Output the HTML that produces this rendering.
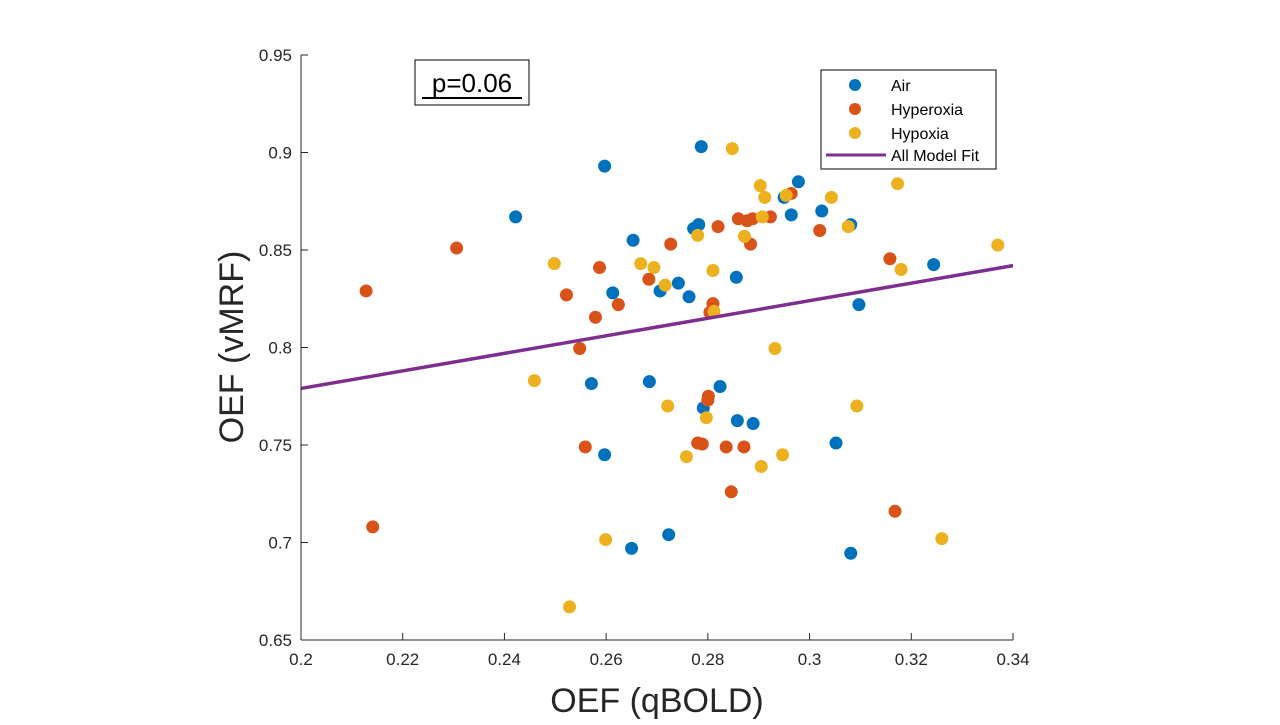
<!DOCTYPE html>
<html><head><meta charset="utf-8"><style>
body{margin:0;background:#fff;width:1280px;height:720px;overflow:hidden;font-family:"Liberation Sans",sans-serif}
</style></head><body>
<svg id="chart" width="1280" height="720" xmlns="http://www.w3.org/2000/svg" font-family="Liberation Sans, sans-serif">
<g id="marks"></g>
<g id="axes"></g>
<text x="657" y="712" font-size="34" text-anchor="middle" fill="#262626">OEF (qBOLD)</text>
<text x="0" y="0" font-size="34" text-anchor="middle" fill="#262626" transform="translate(243,347) rotate(-90)">OEF (vMRF)</text>
<g>
<rect x="415" y="60" width="114" height="45" fill="#fff" stroke="#000" stroke-width="1"/>
<text x="472" y="92" font-size="26" text-anchor="middle" fill="#000">p=0.06</text>
<line x1="422" y1="98" x2="522" y2="98" stroke="#000" stroke-width="2"/>
</g>
<g>
<rect x="821" y="70" width="175" height="99" fill="#fff" stroke="#000" stroke-width="1"/>
<circle cx="855" cy="85" r="6" fill="#0072BD"/>
<text x="891" y="91" font-size="16" fill="#000">Air</text>
<circle cx="855" cy="109" r="6" fill="#D95319"/>
<text x="891" y="115" font-size="16" fill="#000">Hyperoxia</text>
<circle cx="855" cy="133" r="6" fill="#EDB120"/>
<text x="891" y="139" font-size="16" fill="#000">Hypoxia</text>
<line x1="826" y1="155" x2="886" y2="155" stroke="#7E2F8E" stroke-width="3"/>
<text x="891" y="161" font-size="16" fill="#000">All Model Fit</text>
</g>
</svg>
<script>
const airX=[0.2422,0.2597,0.2787,0.2653,0.2613,0.2571,0.2597,0.2685,0.265,0.2723,0.2706,0.2742,0.2763,0.2772,0.2782,0.2856,0.2824,0.2791,0.2858,0.2889,0.2950,0.2978,0.2964,0.3024,0.3081,0.3097,0.3052,0.3081,0.3244];
const airY=[0.867,0.893,0.903,0.855,0.828,0.7815,0.745,0.7825,0.697,0.704,0.829,0.833,0.826,0.861,0.863,0.836,0.780,0.769,0.7625,0.761,0.877,0.885,0.868,0.870,0.863,0.822,0.751,0.6945,0.8425];
const hyperX=[0.2128,0.2141,0.2306,0.2522,0.2548,0.2559,0.2579,0.2587,0.2624,0.2684,0.2727,0.2780,0.2789,0.2801,0.2800,0.2810,0.2804,0.2820,0.2836,0.2846,0.2860,0.2871,0.2877,0.2884,0.2888,0.2923,0.2964,0.3020,0.3158,0.3168];
const hyperY=[0.829,0.708,0.851,0.827,0.7995,0.749,0.8155,0.841,0.822,0.835,0.853,0.751,0.7505,0.775,0.773,0.8225,0.818,0.862,0.749,0.726,0.866,0.749,0.865,0.853,0.866,0.867,0.879,0.860,0.8455,0.716];
const hypoX=[0.2459,0.2498,0.2528,0.2599,0.2668,0.2694,0.2716,0.2721,0.2758,0.2780,0.2797,0.2810,0.2812,0.2848,0.2872,0.2903,0.2907,0.2912,0.2905,0.2932,0.2947,0.2954,0.3043,0.3076,0.3093,0.3173,0.3180,0.3260,0.3370];
const hypoY=[0.783,0.843,0.667,0.7015,0.843,0.841,0.832,0.770,0.744,0.8575,0.764,0.8395,0.8185,0.902,0.857,0.883,0.867,0.877,0.739,0.7995,0.745,0.878,0.877,0.862,0.770,0.884,0.840,0.702,0.8525];
const fitX=[0.2,0.34];
const fitY=[0.779,0.842];
const xTicks=[0.2,0.22,0.24,0.26,0.28,0.3,0.32,0.34];
const xTickLabels=["0.2","0.22","0.24","0.26","0.28","0.3","0.32","0.34"];
const yTicks=[0.65,0.7,0.75,0.8,0.85,0.9,0.95];
const yTickLabels=["0.65","0.7","0.75","0.8","0.85","0.9","0.95"];

const L=301,R=1013,T=55,B=640;
const sx=v=>L+(v-0.2)/(0.14)*(R-L);
const sy=v=>B-(v-0.65)/(0.3)*(B-T);
const NS="http://www.w3.org/2000/svg";
const marks=document.getElementById('marks');
const axes=document.getElementById('axes');
function mk(tag,attrs,parent){const e=document.createElementNS(NS,tag);for(const k in attrs)e.setAttribute(k,attrs[k]);parent.appendChild(e);return e;}
function series(xs,ys,color,name){
  xs.forEach((x,i)=>{
    const c=mk('circle',{cx:sx(x),cy:sy(ys[i]),r:6.5,fill:color},marks);
    
    
  });
}
series(airX,airY,'#0072BD','air-point');
series(hyperX,hyperY,'#D95319','hyperoxia-point');
series(hypoX,hypoY,'#EDB120','hypoxia-point');
const fl=mk('line',{x1:sx(fitX[0]),y1:sy(fitY[0]),x2:sx(fitX[1]),y2:sy(fitY[1]),stroke:'#7E2F8E','stroke-width':3.5},marks);


const xa=mk('line',{x1:L,y1:B,x2:R,y2:B,stroke:'#262626','stroke-width':1},axes);


const ya=mk('line',{x1:L,y1:T,x2:L,y2:B,stroke:'#262626','stroke-width':1},axes);


xTicks.forEach((v,i)=>{
  mk('line',{x1:sx(v),y1:B,x2:sx(v),y2:B-7,stroke:'#262626'},axes);
  const t=mk('text',{x:sx(v),y:B+25,'font-size':17,'text-anchor':'middle',fill:'#262626'},axes);
  t.textContent=xTickLabels[i];
  
  
});
yTicks.forEach((v,i)=>{
  mk('line',{x1:L,y1:sy(v),x2:L+7,y2:sy(v),stroke:'#262626'},axes);
  const t=mk('text',{x:L-9,y:sy(v)+6,'font-size':17,'text-anchor':'end',fill:'#262626'},axes);
  t.textContent=yTickLabels[i];
  
  
});
</script>
</body></html>
